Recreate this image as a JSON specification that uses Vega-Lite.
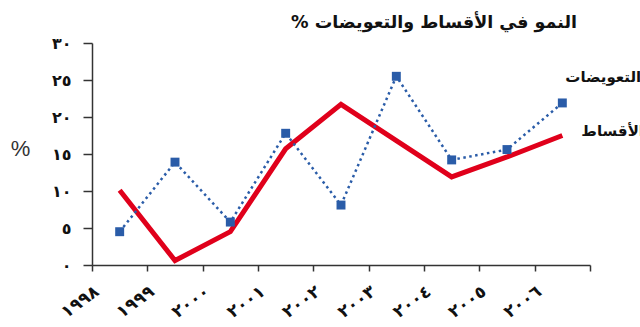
{
  "$schema": "https://vega.github.io/schema/vega-lite/v6.json",
  "width": 498,
  "height": 222,
  "autosize": {"type": "none"},
  "padding": {"left": 92, "top": 43, "right": 50, "bottom": 62},
  "background": "white",
  "title": {
    "text": "% النمو في الأقساط والتعويضات",
    "anchor": "end",
    "frame": "group",
    "dx": -13,
    "dy": 20,
    "offset": 6,
    "baseline": "bottom",
    "font": "DejaVu Sans",
    "fontSize": 17.5,
    "fontWeight": "bold",
    "color": "#111111"
  },
  "data": {
    "values": [
      {"year": "١٩٩٨", "series": "الأقساط", "value": 10.1},
      {"year": "١٩٩٩", "series": "الأقساط", "value": 0.6},
      {"year": "٢٠٠٠", "series": "الأقساط", "value": 4.5},
      {"year": "٢٠٠١", "series": "الأقساط", "value": 15.7},
      {"year": "٢٠٠٢", "series": "الأقساط", "value": 21.7},
      {"year": "٢٠٠٣", "series": "الأقساط", "value": 16.8},
      {"year": "٢٠٠٤", "series": "الأقساط", "value": 11.9},
      {"year": "٢٠٠٥", "series": "الأقساط", "value": 14.6},
      {"year": "٢٠٠٦", "series": "الأقساط", "value": 17.5},
      {"year": "١٩٩٨", "series": "التعويضات", "value": 4.5},
      {"year": "١٩٩٩", "series": "التعويضات", "value": 13.9},
      {"year": "٢٠٠٠", "series": "التعويضات", "value": 5.8},
      {"year": "٢٠٠١", "series": "التعويضات", "value": 17.8},
      {"year": "٢٠٠٢", "series": "التعويضات", "value": 8.1},
      {"year": "٢٠٠٣", "series": "التعويضات", "value": 25.5},
      {"year": "٢٠٠٤", "series": "التعويضات", "value": 14.2},
      {"year": "٢٠٠٥", "series": "التعويضات", "value": 15.6},
      {"year": "٢٠٠٦", "series": "التعويضات", "value": 21.9}
    ]
  },
  "encoding": {
    "x": {
      "field": "year",
      "type": "ordinal",
      "sort": ["١٩٩٨", "١٩٩٩", "٢٠٠٠", "٢٠٠١", "٢٠٠٢", "٢٠٠٣", "٢٠٠٤", "٢٠٠٥", "٢٠٠٦"],
      "scale": {"paddingInner": 0, "paddingOuter": 0},
      "axis": {
        "title": null,
        "tickBand": "extent",
        "labelOffset": -27.7,
        "labelAngle": -36,
        "labelAlign": "right",
        "labelBaseline": "top",
        "labelPadding": 12,
        "labelFont": "DejaVu Sans",
        "labelFontSize": 17,
        "labelFontWeight": "bold",
        "labelColor": "#111111",
        "domainColor": "#333333",
        "domainWidth": 1.5,
        "tickColor": "#333333",
        "tickWidth": 1.5,
        "tickSize": 6,
        "grid": false
      }
    },
    "y": {
      "field": "value",
      "type": "quantitative",
      "scale": {"domain": [0, 30], "nice": false, "zero": true},
      "axis": {
        "values": [0, 5, 10, 15, 20, 25, 30],
        "labelOverlap": false,
        "labelExpr": "replace(replace(replace(replace(replace(datum.label,'0','٠'),'1','١'),'2','٢'),'3','٣'),'5','٥')",
        "title": "%",
        "titleAngle": 0,
        "titleX": -72,
        "titleY": 105,
        "titleAlign": "center",
        "titleBaseline": "middle",
        "titleFont": "Liberation Sans",
        "titleFontSize": 22,
        "titleFontWeight": "normal",
        "titleColor": "#333333",
        "labelFont": "DejaVu Sans",
        "labelFontSize": 16,
        "labelFontWeight": "bold",
        "labelColor": "#111111",
        "labelPadding": 12,
        "domainColor": "#333333",
        "domainWidth": 1.5,
        "tickColor": "#333333",
        "tickWidth": 1.5,
        "tickSize": 9,
        "grid": false
      }
    }
  },
  "layer": [
    {
      "transform": [{"filter": "datum.series == 'الأقساط'"}],
      "mark": {"type": "line", "color": "#e0001b", "strokeWidth": 5, "strokeJoin": "miter"}
    },
    {
      "transform": [{"filter": "datum.series == 'التعويضات'"}],
      "mark": {"type": "line", "color": "#2a5ca8", "strokeWidth": 2.5, "strokeDash": [2.5, 3.5]}
    },
    {
      "transform": [{"filter": "datum.series == 'التعويضات'"}],
      "mark": {"type": "point", "shape": "square", "filled": true, "size": 80, "color": "#2a5ca8", "opacity": 1}
    },
    {
      "transform": [{"filter": "datum.series == 'التعويضات' && datum.year == '٢٠٠٦'"}],
      "mark": {"type": "text", "align": "left", "baseline": "middle", "dx": 3, "dy": -26, "font": "DejaVu Sans", "fontSize": 15, "fontWeight": "bold", "color": "#111111"},
      "encoding": {"text": {"field": "series"}}
    },
    {
      "transform": [{"filter": "datum.series == 'الأقساط' && datum.year == '٢٠٠٦'"}],
      "mark": {"type": "text", "align": "left", "baseline": "middle", "dx": 19, "dy": -5, "font": "DejaVu Sans", "fontSize": 15, "fontWeight": "bold", "color": "#111111"},
      "encoding": {"text": {"field": "series"}}
    }
  ],
  "config": {"view": {"stroke": null}}
}
